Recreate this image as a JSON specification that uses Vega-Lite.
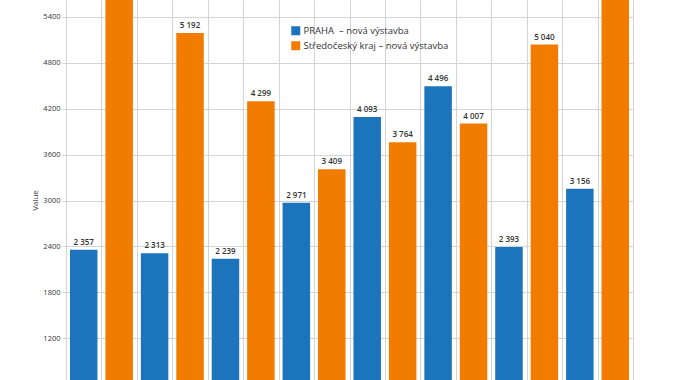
{
  "$schema": "https://vega.github.io/schema/vega-lite/v6.json",
  "width": 567,
  "height": 380,
  "autosize": {"type": "none"},
  "padding": {"left": 66, "top": 0, "right": 41, "bottom": 0},
  "background": "white",
  "config": {
    "locale": {"number": {"decimal": ",", "thousands": " ", "grouping": [3], "currency": ["", " Kč"]}},
    "font": "Open Sans",
    "view": {"stroke": null}
  },
  "data": {
    "values": [
      {"bar": "2015 PRAHA", "series": "PRAHA\u00a0 – nová výstavba", "value": 2357},
      {"bar": "2015 SK", "series": "Středočeský kraj – nová výstavba", "value": 5950},
      {"bar": "2016 PRAHA", "series": "PRAHA\u00a0 – nová výstavba", "value": 2313},
      {"bar": "2016 SK", "series": "Středočeský kraj – nová výstavba", "value": 5192},
      {"bar": "2017 PRAHA", "series": "PRAHA\u00a0 – nová výstavba", "value": 2239},
      {"bar": "2017 SK", "series": "Středočeský kraj – nová výstavba", "value": 4299},
      {"bar": "2018 PRAHA", "series": "PRAHA\u00a0 – nová výstavba", "value": 2971},
      {"bar": "2018 SK", "series": "Středočeský kraj – nová výstavba", "value": 3409},
      {"bar": "2019 PRAHA", "series": "PRAHA\u00a0 – nová výstavba", "value": 4093},
      {"bar": "2019 SK", "series": "Středočeský kraj – nová výstavba", "value": 3764},
      {"bar": "2020 PRAHA", "series": "PRAHA\u00a0 – nová výstavba", "value": 4496},
      {"bar": "2020 SK", "series": "Středočeský kraj – nová výstavba", "value": 4007},
      {"bar": "2021 PRAHA", "series": "PRAHA\u00a0 – nová výstavba", "value": 2393},
      {"bar": "2021 SK", "series": "Středočeský kraj – nová výstavba", "value": 5040},
      {"bar": "2022 PRAHA", "series": "PRAHA\u00a0 – nová výstavba", "value": 3156},
      {"bar": "2022 SK", "series": "Středočeský kraj – nová výstavba", "value": 6050}
    ]
  },
  "encoding": {
    "x": {
      "field": "bar",
      "type": "nominal",
      "sort": null,
      "scale": {"paddingInner": 0, "paddingOuter": 0},
      "axis": {
        "title": null,
        "labels": false,
        "ticks": false,
        "domain": false,
        "grid": true,
        "tickBand": "extent",
        "gridColor": "#d4d4d4",
        "gridWidth": 1
      }
    },
    "y": {
      "field": "value",
      "type": "quantitative",
      "scale": {"domain": [655, 5622], "zero": false, "nice": false},
      "axis": {
        "title": "Value",
        "titleFontSize": 8,
        "titleFontWeight": "normal",
        "titleColor": "#333333",
        "titleX": -31,
        "titleY": 200,
        "titleBaseline": "middle",
        "values": [1200, 1800, 2400, 3000, 3600, 4200, 4800, 5400],
        "format": "d",
        "labelFontSize": 7.5,
        "labelColor": "#333333",
        "labelPadding": 2,
        "tickSize": 4,
        "tickColor": "#d4d4d4",
        "gridColor": "#d4d4d4",
        "domain": false
      }
    }
  },
  "layer": [
    {
      "mark": {"type": "bar", "width": {"band": 0.776}, "clip": true},
      "encoding": {
        "color": {
          "field": "series",
          "type": "nominal",
          "scale": {
            "domain": ["PRAHA\u00a0 – nová výstavba", "Středočeský kraj – nová výstavba"],
            "range": ["#1c75bc", "#f27c00"]
          },
          "legend": {
            "title": null,
            "orient": "none",
            "legendX": 225,
            "legendY": 26,
            "padding": 0,
            "symbolType": "square",
            "symbolSize": 81,
            "symbolStrokeWidth": 0,
            "labelFontSize": 9.5,
            "labelColor": "#333333",
            "labelOffset": 3,
            "rowPadding": 4
          }
        }
      }
    },
    {
      "transform": [{"filter": "datum.value < 5622"}],
      "mark": {"type": "text", "dy": -3, "baseline": "bottom", "fontSize": 8, "fontWeight": 600, "color": "#333333", "clip": true},
      "encoding": {
        "text": {"field": "value", "type": "quantitative", "format": ",d"}
      }
    }
  ]
}
